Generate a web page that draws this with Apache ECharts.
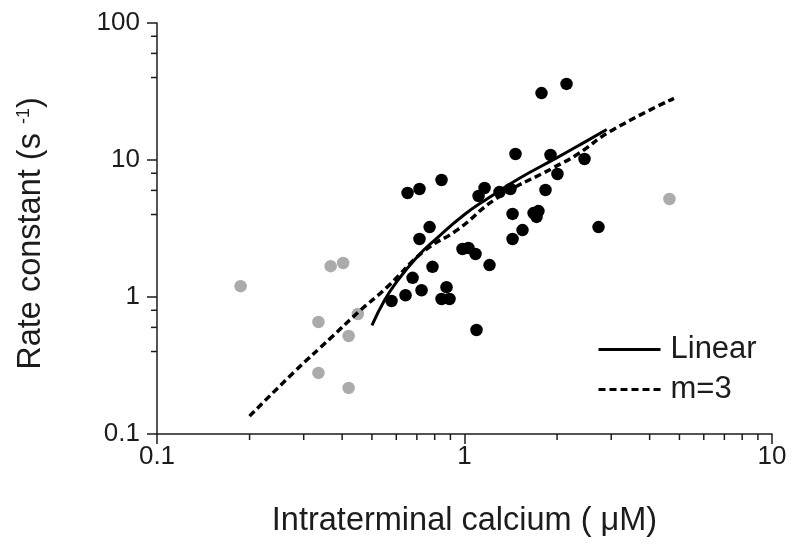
<!DOCTYPE html>
<html>
<head>
<meta charset="utf-8">
<script src="https://cdn.jsdelivr.net/npm/echarts@6/dist/echarts.min.js"></script>
<style>html,body{margin:0;padding:0;background:#fff}#c{width:800px;height:552px}</style>
</head>
<body>
<div id="c"></div>
<script>
// ---- data ----
const blackPoints = [
  [1.465, 11.06], [1.904, 10.88], [2.456, 10.17], [2.006, 7.90],
  [0.653, 5.74], [0.714, 6.14], [0.842, 7.14], [1.162, 6.25],
  [1.111, 5.46], [1.300, 5.84], [1.411, 6.14], [1.834, 6.04],
  [1.433, 4.04], [1.677, 4.10], [1.740, 4.24], [1.715, 3.84],
  [1.544, 3.08], [1.433, 2.65], [2.728, 3.24], [0.770, 3.24],
  [0.714, 2.65], [0.985, 2.24], [1.030, 2.28], [1.086, 2.06],
  [1.206, 1.71], [0.787, 1.66], [0.678, 1.38], [0.874, 1.18],
  [0.725, 1.12], [0.643, 1.03], [0.579, 0.935], [0.842, 0.967],
  [0.894, 0.967], [1.094, 0.574], [1.780, 30.8], [2.147, 35.9]
];
const greyPoints = [
  [0.187, 1.20], [0.367, 1.68], [0.403, 1.77], [0.335, 0.657],
  [0.420, 0.519], [0.450, 0.751], [0.335, 0.279], [0.420, 0.217],
  [4.64, 5.19]
];
const linearCurve = [
  [0.50, 0.62], [0.55, 0.95], [0.60, 1.28], [0.70, 1.95], [0.80, 2.6],
  [1.0, 4.0], [1.2, 5.3], [1.5, 7.3], [2.0, 10.4], [2.5, 13.8], [2.9, 16.7]
];
const m3Curve = [
  [0.20, 0.135], [0.28, 0.285], [0.37, 0.51], [0.45, 0.77], [0.56, 1.18],
  [0.74, 2.17], [0.95, 3.1], [1.28, 5.3], [1.95, 8.8], [2.33, 11.0],
  [2.98, 16.2], [4.8, 28.2]
];
const seriesNames = ['Linear', 'm=3'];
const xRange = [0.1, 10];
const yRange = [0.1, 100];
const xMinorTicks = [0.2,0.3,0.4,0.5,0.6,0.7,0.8,0.9,2,3,4,5,6,7,8,9];
const yMinorTicks = [0.4,0.6,0.8,4,6,8,40,60,80];
const xTitle = 'Intraterminal calcium ( \u03bcM)';
const yTitleMain = 'Rate constant (s ';
const yTitleSup = '-1';

// ---- chart ----
const FONT = '"Liberation Sans", Arial, sans-serif';
const INK = '#1c1c1c';
const chart = echarts.init(document.getElementById('c'), null, {renderer: 'canvas'});

function fmt(v) { return String(+(+v).toPrecision(3)); }

const minorX = xMinorTicks.map(v => [v, yRange[0]]);
const minorY = yMinorTicks.map(v => [xRange[0], v]);

chart.setOption({
  animation: false,
  backgroundColor: '#fff',
  grid: {left: 157, right: 28, top: 23, bottom: 118, containLabel: false},
  xAxis: {
    type: 'log', logBase: 10, min: xRange[0], max: xRange[1],
    name: xTitle, nameLocation: 'middle', nameGap: 71,
    nameTextStyle: {fontFamily: FONT, fontSize: 32.5, color: INK},
    axisLine: {show: true, onZero: false, lineStyle: {color: INK, width: 1.5}},
    axisTick: {show: true, length: 10, lineStyle: {color: INK, width: 1.5}},
    axisLabel: {fontFamily: FONT, fontSize: 26, color: INK, margin: 10, formatter: fmt},
    splitLine: {show: false}, minorTick: {show: false}
  },
  yAxis: {
    type: 'log', logBase: 10, min: yRange[0], max: yRange[1],
    name: yTitleMain + '{sup|' + yTitleSup + '})', nameLocation: 'middle', nameGap: 109, nameRotate: 90,
    nameTextStyle: {fontFamily: FONT, fontSize: 32.5, color: INK, padding: [0, 10, 0, 0],
      rich: {sup: {fontFamily: FONT, fontSize: 18, color: INK, verticalAlign: 'top', lineHeight: 32, padding: [0, 0, 15, 0]}}},
    axisLine: {show: true, onZero: false, lineStyle: {color: INK, width: 1.5}},
    axisTick: {show: true, length: 10, lineStyle: {color: INK, width: 1.5}},
    axisLabel: {fontFamily: FONT, fontSize: 26, color: INK, margin: 17, formatter: fmt},
    splitLine: {show: false}, minorTick: {show: false}
  },
  legend: {
    orient: 'vertical', left: 592, top: 329,
    itemWidth: 62, itemHeight: 14, itemGap: 9,
    data: seriesNames,
    itemStyle: {opacity: 0},
    lineStyle: {width: 3},
    textStyle: {fontFamily: FONT, fontSize: 31, color: INK, padding: [0, 0, 0, 5]}
  },
  series: [
    {
      type: 'scatter', name: 'grey', data: greyPoints, symbol: 'circle', symbolSize: 12.5,
      itemStyle: {color: '#ababab', opacity: 1}, z: 2
    },
    {
      type: 'scatter', name: 'black', data: blackPoints, symbol: 'circle', symbolSize: 12.5,
      itemStyle: {color: '#000', opacity: 1}, z: 3
    },
    {
      type: 'line', name: seriesNames[0], data: linearCurve, smooth: true, symbol: 'none',
      itemStyle: {color: '#000'},
      lineStyle: {color: '#000', width: 3, type: 'solid'}, z: 4
    },
    {
      type: 'line', name: seriesNames[1], data: m3Curve, smooth: true, symbol: 'none',
      itemStyle: {color: '#000'},
      lineStyle: {color: '#000', width: 3.5, type: [7, 4]}, z: 4
    },
    {
      type: 'custom', name: 'xminor', data: minorX, clip: false, silent: true,
      renderItem: function (params, api) {
        const p = api.coord([api.value(0), api.value(1)]);
        return {type: 'line', shape: {x1: p[0], y1: p[1], x2: p[0], y2: p[1] + 6},
          style: {stroke: INK, lineWidth: 1.5}};
      }
    },
    {
      type: 'custom', name: 'yminor', data: minorY, clip: false, silent: true,
      renderItem: function (params, api) {
        const p = api.coord([api.value(0), api.value(1)]);
        return {type: 'line', shape: {x1: p[0], y1: p[1], x2: p[0] - 6, y2: p[1]},
          style: {stroke: INK, lineWidth: 1.5}};
      }
    }
  ]
});
</script>
</body>
</html>
